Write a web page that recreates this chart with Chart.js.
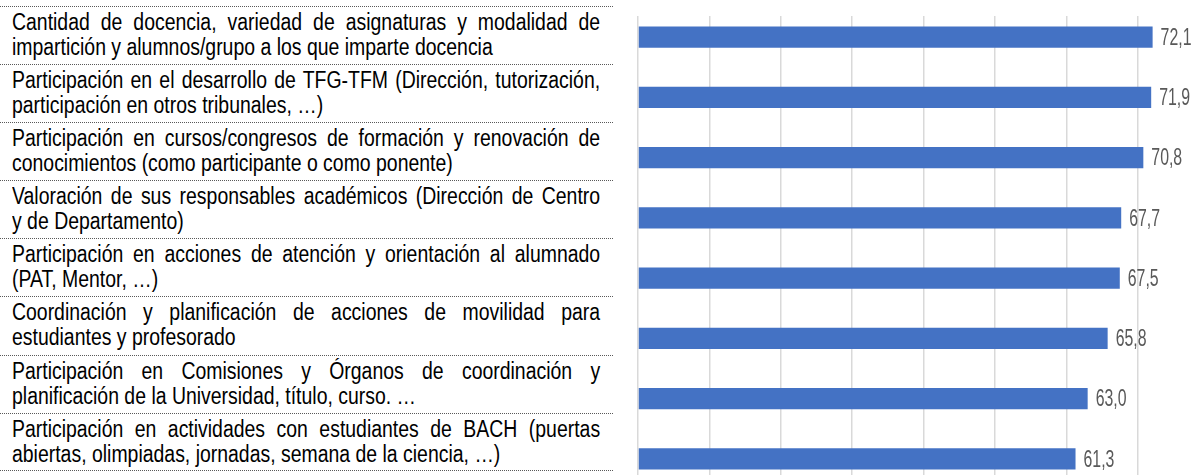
<!DOCTYPE html>
<html>
<head>
<meta charset="utf-8">
<script src="https://cdn.jsdelivr.net/npm/chart.js@4"></script>
<style>
  html, body { margin: 0; padding: 0; background: #fff; }
  body { width: 1195px; height: 475px; overflow: hidden; position: relative; }
  #labels { position: absolute; left: 0; top: 6px; width: 613px; }
  .row {
    box-sizing: border-box;
    height: 58.1px;
    border-top: 1px dotted #595959;
    padding: 3px 0 0 12px;
    font-family: "Liberation Sans", Arial, sans-serif;
    font-size: 23px;
    line-height: 25px;
    color: #000;
    overflow: hidden;
  }
  .row:last-child { border-bottom: 1px dotted #595959; }
  /* condensed look: Arial scaled horizontally */
  .l1, .l2 { width: 696px; transform: scaleX(0.845); transform-origin: 0 0; }
  .l1 { text-align: justify; text-align-last: justify; }
  .l2 { text-align: left; }
  #wrap { position: absolute; left: 600px; top: 0; width: 615px; height: 495px; }
</style>
</head>
<body>
<div id="labels"></div>
<div id="wrap"><canvas id="chart" width="615" height="495"></canvas></div>
<script>
// ===== DATA =====
const categories = [
    ['Cantidad de docencia, variedad de asignaturas y modalidad de', 'impartición y alumnos/grupo a los que imparte docencia'],
    ['Participación en el desarrollo de TFG-TFM (Dirección, tutorización,', 'participación en otros tribunales, …)'],
    ['Participación en cursos/congresos de formación y renovación de', 'conocimientos (como participante o como ponente)'],
    ['Valoración de sus responsables académicos (Dirección de Centro', 'y de Departamento)'],
    ['Participación en acciones de atención y orientación al alumnado', '(PAT, Mentor, …)'],
    ['Coordinación y planificación de acciones de movilidad para', 'estudiantes y profesorado'],
    ['Participación en Comisiones y Órganos de coordinación y', 'planificación de la Universidad, título, curso. …'],
    ['Participación en actividades con estudiantes de BACH (puertas', 'abiertas, olimpiadas, jornadas, semana de la ciencia, …)']
];
const values = [72.1, 71.9, 70.8, 67.7, 67.5, 65.8, 63.0, 61.3];
const axisMin = 0;
const axisMax = 80;
const axisStep = 10;

// left-hand text table, built from the categories
const labelsBox = document.getElementById('labels');
categories.forEach(lines => {
    const row = document.createElement('div');
    row.className = 'row';
    const a = document.createElement('div');
    a.className = 'l1';
    a.textContent = lines[0];
    const b = document.createElement('div');
    b.className = 'l2';
    b.textContent = lines[1];
    row.appendChild(a);
    row.appendChild(b);
    labelsBox.appendChild(row);
});

function fmt(v) {
    return v.toFixed(1).replace('.', ',');
}

// value labels at the end of each bar
const valueLabels = {
    id: 'valueLabels',
    beforeDatasetsDraw(chart) {
        // gridlines start a little below the top of the plot area
        const a = chart.chartArea;
        chart.ctx.clearRect(a.left - 2, a.top, a.right - a.left + 4, 9);
    },
    afterDatasetsDraw(chart) {
        const ctx = chart.ctx;
        const meta = chart.getDatasetMeta(0);
        meta.data.forEach((bar, i) => {
            ctx.save();
            ctx.translate(bar.x + 8, bar.y + 1);
            ctx.scale(0.66, 1);
            ctx.font = '24px "Liberation Sans", Arial, sans-serif';
            ctx.fillStyle = '#595959';
            ctx.textBaseline = 'middle';
            ctx.textAlign = 'left';
            ctx.fillText(fmt(values[i]), 0, 0);
            ctx.restore();
        });
    }
};

const ctx = document.getElementById('chart').getContext('2d');
new Chart(ctx, {
    type: 'bar',
    data: {
        labels: categories.map(c => c.join(' ')),
        datasets: [{
            data: values,
            backgroundColor: '#4472C4',
            borderWidth: 0,
            categoryPercentage: 1,
            barPercentage: 0.35
        }]
    },
    options: {
        indexAxis: 'y',
        responsive: false,
        animation: false,
        devicePixelRatio: 1,
        layout: { padding: { left: 38, right: 6, top: 7, bottom: 6 } },
        plugins: {
            legend: { display: false },
            tooltip: { enabled: false }
        },
        scales: {
            x: {
                min: axisMin,
                max: axisMax,
                ticks: { display: false, stepSize: axisStep },
                grid: { color: '#d9d9d9', lineWidth: 1.5, drawTicks: false },
                border: { display: false },
                afterFit(s) { s.height = 0; }
            },
            y: {
                ticks: { display: false },
                grid: { display: false, drawTicks: false },
                border: { display: false },
                afterFit(s) { s.width = 0; }
            }
        }
    },
    plugins: [valueLabels]
});
</script>
</body>
</html>
